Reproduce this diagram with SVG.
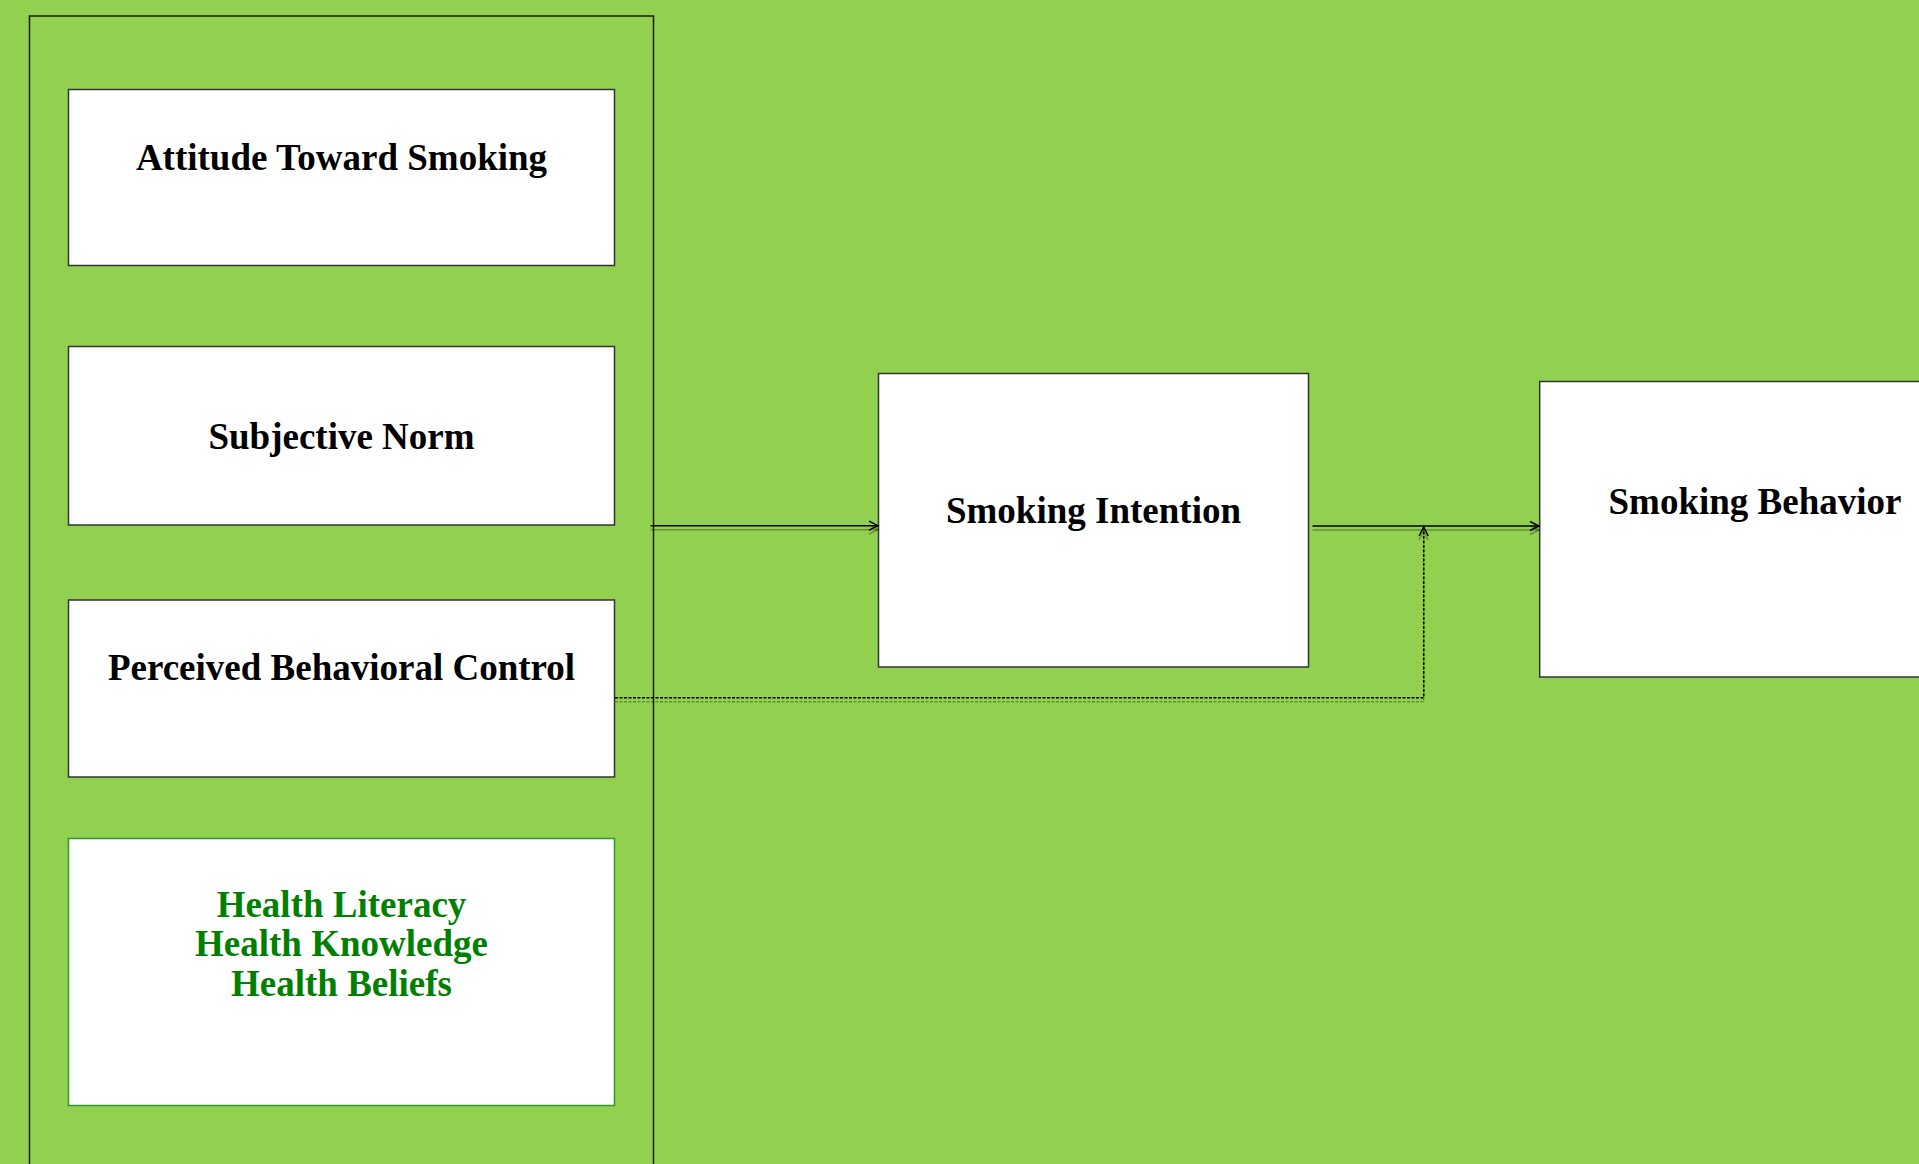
<svg xmlns="http://www.w3.org/2000/svg" width="1919" height="1164" viewBox="0 0 1919 1164">
<style>
.box{fill:#ffffff;stroke:#333333;stroke-width:1.5}
.hbox{fill:#ffffff;stroke:#2e9a2e;stroke-width:1.5}
.lbl{font-family:"Liberation Serif","Times New Roman",serif;font-weight:bold;font-size:37px;fill:#000000;text-anchor:middle}
.glbl{font-family:"Liberation Serif","Times New Roman",serif;font-weight:bold;font-size:37px;fill:#008000;text-anchor:middle}
.ln{fill:none;stroke:#000000;stroke-width:1.5}
.dash{fill:none;stroke:#000000;stroke-width:1.5;stroke-dasharray:3 1.5}
.sh{fill:none;stroke:#000000;stroke-opacity:0.3;stroke-width:1.5}
.shd{fill:none;stroke:#000000;stroke-opacity:0.3;stroke-width:1.5;stroke-dasharray:3 1.5}
</style>
<defs>
<marker id="arr" viewBox="-10 -6 12 12" refX="0" refY="0" markerWidth="12" markerHeight="12" markerUnits="userSpaceOnUse" orient="auto">
<path d="M -9 -4.5 L 0 0 L -9 4.5" fill="none" stroke="#000000" stroke-width="1.5"/>
</marker>
<marker id="arrs" viewBox="-10 -6 12 12" refX="0" refY="0" markerWidth="12" markerHeight="12" markerUnits="userSpaceOnUse" orient="auto">
<path d="M -9 -4.5 L 0 0 L -9 4.5" fill="none" stroke="#000000" stroke-opacity="0.3" stroke-width="1.5"/>
</marker>
</defs>
<rect x="0" y="0" width="1919" height="1164" fill="#92D050"/>
<g id="container">
<rect x="29.5" y="16" width="624" height="1160" fill="none" stroke="#1a1a1a" stroke-width="1.5"/>
</g>
<g id="attitude">
<rect class="box" x="68.5" y="89.5" width="546" height="176"/>
<text class="lbl" x="341.5" y="170">Attitude Toward Smoking</text>
</g>
<g id="subjective-norm">
<rect class="box" x="68.5" y="346.5" width="546" height="178.5"/>
<text class="lbl" x="341.5" y="449">Subjective Norm</text>
</g>
<g id="pbc">
<rect class="box" x="68.5" y="600" width="546" height="177"/>
<text class="lbl" x="341.5" y="680">Perceived Behavioral Control</text>
</g>
<g id="health">
<rect class="hbox" x="68.5" y="838.5" width="546" height="267"/>
<text class="glbl" x="341.5" y="917">Health Literacy</text>
<text class="glbl" x="341.5" y="956">Health Knowledge</text>
<text class="glbl" x="341.5" y="996">Health Beliefs</text>
</g>
<g id="intention">
<rect class="box" x="878.5" y="373.5" width="430" height="293.5"/>
<text class="lbl" x="1093.5" y="523">Smoking Intention</text>
</g>
<g id="behavior">
<rect class="box" x="1539.7" y="381.5" width="400" height="295.5"/>
<text class="lbl" x="1755" y="514">Smoking Behavior</text>
</g>
<g id="connectors">
<path class="sh" d="M 650.5 529.7 L 878 529.7" marker-end="url(#arrs)"/>
<path class="ln" d="M 650.5 525.7 L 878 525.7" marker-end="url(#arr)"/>
<path class="sh" d="M 1312.5 530 L 1539 530" marker-end="url(#arrs)"/>
<path class="ln" d="M 1312.5 526 L 1539 526" marker-end="url(#arr)"/>
<path class="shd" d="M 615 701.7 L 1423.7 701.7 L 1423.7 531" marker-end="url(#arrs)"/>
<path class="dash" d="M 615 697.7 L 1423.7 697.7 L 1423.7 527" marker-end="url(#arr)"/>
</g>
</svg>
